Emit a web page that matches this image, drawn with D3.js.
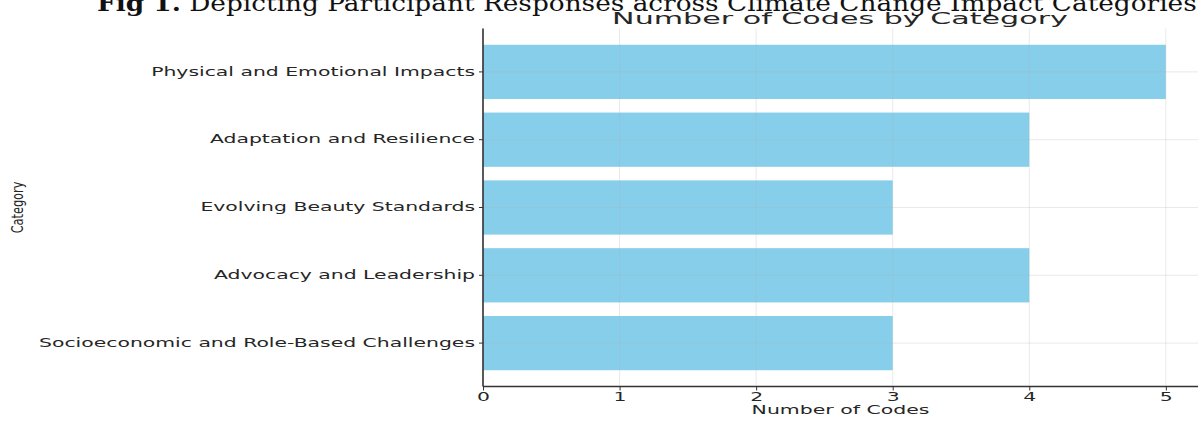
<!DOCTYPE html>
<html>
<head>
<meta charset="utf-8">
<script src="https://cdn.jsdelivr.net/npm/d3@7"></script>
<style>
  html, body { margin: 0; padding: 0; background: #fff; }
  svg { display: block; }
</style>
</head>
<body>
<svg id="chart" width="1198" height="421"></svg>
<script>
// ---- data ----
const categories = [
  "Physical and Emotional Impacts",
  "Adaptation and Resilience",
  "Evolving Beauty Standards",
  "Advocacy and Leadership",
  "Socioeconomic and Role-Based Challenges"
];
const codeCounts = [5, 4, 3, 4, 3];
const xTicks = [0, 1, 2, 3, 4, 5];
const captionBold = "Fig 1.";
const captionText = " Depicting Participant Responses across Climate Change Impact Categories";
const chartTitle = "Number of Codes by Category";
const xLabel = "Number of Codes";
const yLabel = "Category";

// ---- layout ----
const svg = d3.select("#chart");
const plot = { left: 483, right: 1200, top: 28.5, bottom: 386.5 };
const textColor = "#262626";
const sansFont = "'DejaVu Sans', sans-serif";

const x = d3.scaleLinear().domain([0, 5.25]).range([plot.left, plot.right]);
const y = d3.scaleBand().domain(categories).range([plot.top, plot.bottom])
  .paddingInner(0.2).paddingOuter(0.24);

// helper: horizontal stretch factor that makes a text reach a target width
function stretchTo(sel, targetWidth) {
  const w = sel.node().getComputedTextLength();
  return targetWidth / w;
}

// bars
svg.append("g").selectAll("rect").data(categories).join("rect")
  .attr("x", x(0))
  .attr("y", d => y(d))
  .attr("width", (d, i) => x(codeCounts[i]) - x(0))
  .attr("height", y.bandwidth())
  .attr("fill", "#87CEEB");

// grid (faint, over bars)
const grid = svg.append("g").attr("stroke", "#b0b0b0").attr("stroke-opacity", 0.28).attr("stroke-width", 1);
grid.selectAll("line.v").data(xTicks).join("line").attr("class", "v")
  .attr("x1", d => x(d)).attr("x2", d => x(d))
  .attr("y1", plot.top).attr("y2", plot.bottom);
grid.selectAll("line.h").data(categories).join("line").attr("class", "h")
  .attr("x1", plot.left).attr("x2", plot.right)
  .attr("y1", d => y(d) + y.bandwidth() / 2).attr("y2", d => y(d) + y.bandwidth() / 2);

// axes
const xAxis = svg.append("g").attr("transform", `translate(0,${plot.bottom})`)
  .call(d3.axisBottom(x).tickValues(xTicks).tickFormat(d3.format("d")).tickSize(4).tickPadding(2));
const yAxis = svg.append("g").attr("transform", `translate(${plot.left},0)`)
  .call(d3.axisLeft(y).tickSize(4).tickPadding(4));

[xAxis, yAxis].forEach(a => {
  a.select(".domain").attr("stroke", "#333").attr("stroke-width", 1.6);
  a.selectAll(".tick line").attr("stroke", "#333").attr("stroke-width", 1);
  a.selectAll("text").attr("font-family", sansFont).attr("font-size", 11.5).attr("fill", textColor);
});
yAxis.select(".domain").attr("d", `M0,${plot.top}V${plot.bottom}`);
xAxis.select(".domain").attr("d", `M${plot.left},0H${plot.right}`);

// stretch tick labels horizontally
const sxTick = stretchTo(yAxis.select(".tick text"), 324);
yAxis.selectAll(".tick text").attr("x", -8 / sxTick).attr("transform", `scale(${sxTick},1)`);
xAxis.selectAll(".tick text").attr("transform", `scale(${sxTick},1)`).attr("dy", "0.71em");

// x label
const xl = svg.append("text").text(xLabel)
  .attr("font-family", sansFont).attr("font-size", 11.5).attr("fill", textColor)
  .attr("text-anchor", "middle");
const sxXl = stretchTo(xl, 178);
xl.attr("transform", `translate(${(plot.left + plot.right) / 2 - 1},414) scale(${sxXl},1)`);

// y label (condensed look)
svg.append("text").text(yLabel)
  .attr("font-family", "'Liberation Sans Narrow', 'DejaVu Sans Condensed', sans-serif")
  .attr("font-size", 12).attr("fill", textColor)
  .attr("text-anchor", "middle")
  .attr("transform", `translate(23,${(plot.top + plot.bottom) / 2}) rotate(-90) scale(1.05,1.3)`);

// title
const tt = svg.append("text").text(chartTitle)
  .attr("font-family", sansFont).attr("font-size", 15).attr("fill", textColor)
  .attr("text-anchor", "middle");
const sxT = stretchTo(tt, 456);
tt.attr("transform", `translate(840,24) scale(${sxT},1)`);

// figure caption (cut off at the top, as in the source image)
const cap = svg.append("text")
  .attr("font-family", "'DejaVu Serif', serif").attr("font-size", 23).attr("fill", "#111");
cap.append("tspan").attr("font-weight", "bold").text(captionBold);
cap.append("tspan").text(captionText);
const sxC = stretchTo(cap, 1100);
cap.attr("transform", `translate(97,11) scale(${sxC},1)`);
</script>
</body>
</html>
